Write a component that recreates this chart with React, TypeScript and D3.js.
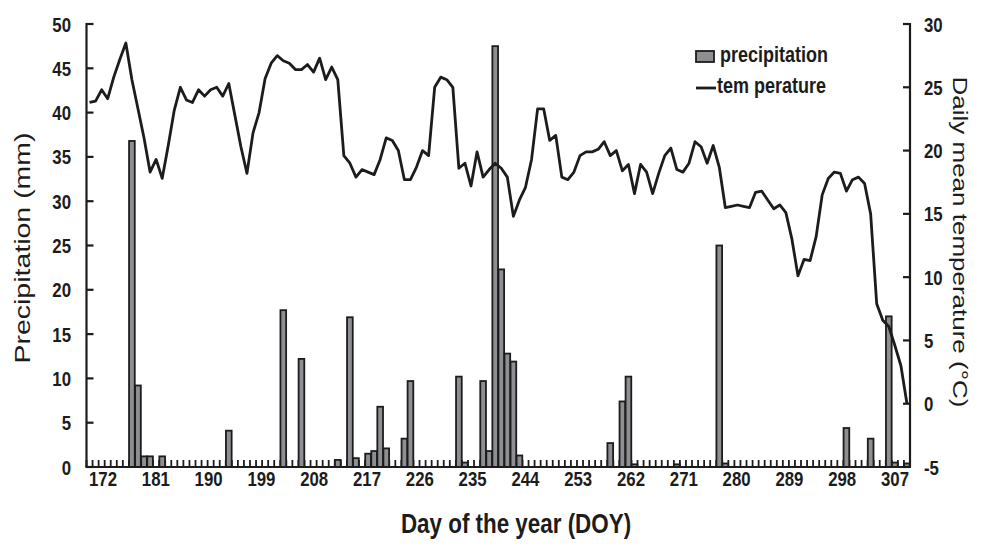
import { useEffect, useRef } from 'react';
import * as d3 from 'd3';

// day of year categories
const DAYS = d3.range(172, 308);
const DAY_LABELS = [172, 181, 190, 199, 208, 217, 226, 235, 244, 253, 262, 271, 280, 289, 298, 307];

// daily mean temperature (°C), DOY 172..307
const TEMP = [
  23.8, 23.9, 24.8, 24.1, 25.8, 27.2, 28.5, 25.6, 23.3, 21.0,
  18.3, 19.3, 17.8, 20.4, 23.2, 25.0, 24.0, 23.8, 24.8, 24.3,
  24.8, 25.0, 24.3, 25.3, 22.8, 20.3, 18.2, 21.4, 23.0, 25.7,
  26.9, 27.5, 27.1, 26.9, 26.4, 26.4, 26.8, 26.2, 27.3, 25.6,
  26.6, 25.6, 19.6, 19.0, 17.9, 18.5, 18.3, 18.1, 19.3, 21.0,
  20.8, 20.0, 17.7, 17.7, 18.7, 20.0, 19.6, 25.0, 25.8, 25.6,
  25.0, 18.6, 19.0, 17.2, 19.9, 17.9, 18.5, 19.0, 18.6, 17.9,
  14.8, 16.1, 17.1, 19.3, 23.3, 23.3, 20.8, 21.2, 17.9, 17.7,
  18.3, 19.6, 19.9, 19.9, 20.1, 20.7, 19.6, 20.0, 18.4, 18.9,
  16.6, 18.9, 18.3, 16.6, 18.2, 19.6, 20.2, 18.5, 18.3, 19.0,
  20.7, 20.3, 19.0, 20.4, 18.7, 15.5, 15.6, 15.7, 15.6, 15.5,
  16.7, 16.8, 16.1, 15.4, 15.7, 15.1, 13.0, 10.1, 11.4, 11.3,
  13.2, 16.5, 17.8, 18.3, 18.2, 16.8, 17.7, 17.9, 17.4, 15.0,
  7.9, 6.6, 6.1, 4.6, 3.0, 0.0,
];

// days with precipitation and amount (mm)
const RAIN_DAYS = [179, 180, 181, 182, 184, 195, 204, 207, 213, 215, 216, 218, 219, 220, 221, 224, 225, 233, 234, 237, 238, 239, 240, 241, 242, 243, 258, 260, 261, 262, 269, 276, 277, 297, 301, 304, 305, 307];
const RAIN_MM = [36.8, 9.2, 1.2, 1.2, 1.2, 4.1, 17.7, 12.2, 0.8, 16.9, 1.0, 1.5, 1.8, 6.8, 2.1, 3.2, 9.7, 10.2, 0.5, 9.7, 1.8, 47.5, 22.3, 12.8, 11.9, 1.3, 2.7, 7.4, 10.2, 0.3, 0.3, 25.0, 0.4, 4.4, 3.2, 17.0, 0.5, 0.4];

const P_TICKS = [0, 5, 10, 15, 20, 25, 30, 35, 40, 45, 50];
const T_TICKS = [-5, 0, 5, 10, 15, 20, 25, 30];

const FONT = "'Liberation Sans', Arial, sans-serif";
const INK = '#1c1c1c';
const BAR = '#8e8f93';
const SQ = 'scale(0.8,1)'; // the figure is squeezed horizontally

export default function App() {
  const svgRef = useRef<SVGSVGElement>(null);

  useEffect(() => {
    const svg = d3.select(svgRef.current);
    svg.selectAll('*').remove();
    const L = 86.5, R = 910, T = 24, B = 467;

    const x = d3.scaleBand<number>().domain(DAYS).range([L, R]).paddingInner(0.06).paddingOuter(0.03);
    const step = x.step();
    const cx = (d: number) => (x(d) as number) + x.bandwidth() / 2;
    // the printed day labels sit a little inside the plot ends
    const xl = d3.scalePoint<number>().domain(DAY_LABELS).range([103, 895]);
    const yP = d3.scaleLinear().domain([0, 50]).range([B, T]);
    const yT = d3.scaleLinear().domain([-5, 30]).range([B, T]);

    // category ticks (inside)
    svg.append('g').selectAll('line').data(d3.range(DAYS.length + 1)).join('line')
      .attr('x1', i => L + i * step).attr('x2', i => L + i * step)
      .attr('y1', B).attr('y2', B - 7)
      .attr('stroke', INK).attr('stroke-width', 1.8);

    // precipitation bars
    const rain = RAIN_DAYS.map((d, i) => ({ day: d, mm: RAIN_MM[i] }));
    svg.append('g').selectAll('rect').data(rain).join('rect')
      .attr('x', d => x(d.day) as number)
      .attr('y', d => yP(d.mm))
      .attr('width', x.bandwidth())
      .attr('height', d => B - yP(d.mm))
      .attr('fill', BAR)
      .attr('stroke', INK)
      .attr('stroke-width', 1.8);

    // axes lines
    const ax = svg.append('g').attr('stroke', INK).attr('stroke-width', 2.2);
    ax.append('line').attr('x1', L).attr('x2', L).attr('y1', T - 1).attr('y2', B);
    ax.append('line').attr('x1', R).attr('x2', R).attr('y1', T - 1).attr('y2', B);
    ax.append('line').attr('x1', L - 1).attr('x2', R + 1).attr('y1', B).attr('y2', B);
    ax.selectAll('.lt').data(P_TICKS).join('line').attr('class', 'lt')
      .attr('x1', L).attr('x2', L + 7).attr('y1', d => yP(d)).attr('y2', d => yP(d));
    ax.selectAll('.rt').data(T_TICKS).join('line').attr('class', 'rt')
      .attr('x1', R - 7).attr('x2', R).attr('y1', d => yT(d)).attr('y2', d => yT(d));

    // temperature line
    const line = d3.line<number>().x((_, i) => cx(DAYS[i])).y(v => yT(v));
    svg.append('path').datum(TEMP)
      .attr('d', line)
      .attr('fill', 'none')
      .attr('stroke', INK)
      .attr('stroke-width', 2.8)
      .attr('stroke-linejoin', 'round');

    // tick labels
    const txt = svg.append('g').attr('font-family', FONT).attr('fill', INK);
    txt.selectAll('.pl').data(P_TICKS).join('text').attr('class', 'pl')
      .attr('transform', d => `translate(71,${yP(d)}) ${SQ}`)
      .attr('text-anchor', 'end').attr('dy', '0.36em')
      .attr('font-size', 21).attr('font-weight', 'bold').text(d => d);
    txt.selectAll('.tl').data(T_TICKS).join('text').attr('class', 'tl')
      .attr('transform', d => `translate(924,${yT(d)}) ${SQ}`)
      .attr('text-anchor', 'start').attr('dy', '0.36em')
      .attr('font-size', 21).attr('font-weight', 'bold').text(d => d);
    txt.selectAll('.xl').data(DAY_LABELS).join('text').attr('class', 'xl')
      .attr('transform', d => `translate(${xl(d)},486) ${SQ}`)
      .attr('text-anchor', 'middle')
      .attr('font-size', 21).attr('font-weight', 'bold').text(d => d);

    // axis titles
    txt.append('text')
      .attr('transform', `translate(30,248) ${SQ} rotate(-90)`)
      .attr('text-anchor', 'middle').attr('font-size', 28.5)
      .text('Precipitation (mm)');
    txt.append('text')
      .attr('transform', `translate(953,242) ${SQ} rotate(90)`)
      .attr('text-anchor', 'middle').attr('font-size', 26)
      .text('Daily mean temperature (°C)');
    txt.append('text')
      .attr('transform', `translate(516,533) ${SQ}`)
      .attr('text-anchor', 'middle').attr('font-size', 28).attr('font-weight', 'bold')
      .text('Day of the year (DOY)');

    // legend
    const lg = svg.append('g');
    lg.append('rect').attr('x', 696).attr('y', 51).attr('width', 18).attr('height', 11)
      .attr('fill', BAR).attr('stroke', INK).attr('stroke-width', 1.8);
    lg.append('line').attr('x1', 696).attr('x2', 716).attr('y1', 88).attr('y2', 88)
      .attr('stroke', INK).attr('stroke-width', 2.8);
    lg.append('text').attr('transform', `translate(720,62) ${SQ}`)
      .attr('font-family', FONT).attr('font-size', 22.5).attr('font-weight', 'bold').attr('fill', INK)
      .text('precipitation');
    lg.append('text').attr('transform', `translate(717,93) ${SQ}`)
      .attr('font-family', FONT).attr('font-size', 22.5).attr('font-weight', 'bold').attr('fill', INK)
      .text('tem perature');
  }, []);

  return (
    <div style={{ position: 'absolute', left: 0, top: 0, background: '#fff' }}>
      <svg ref={svgRef} width={983} height={558} style={{ display: 'block' }} />
    </div>
  );
}
